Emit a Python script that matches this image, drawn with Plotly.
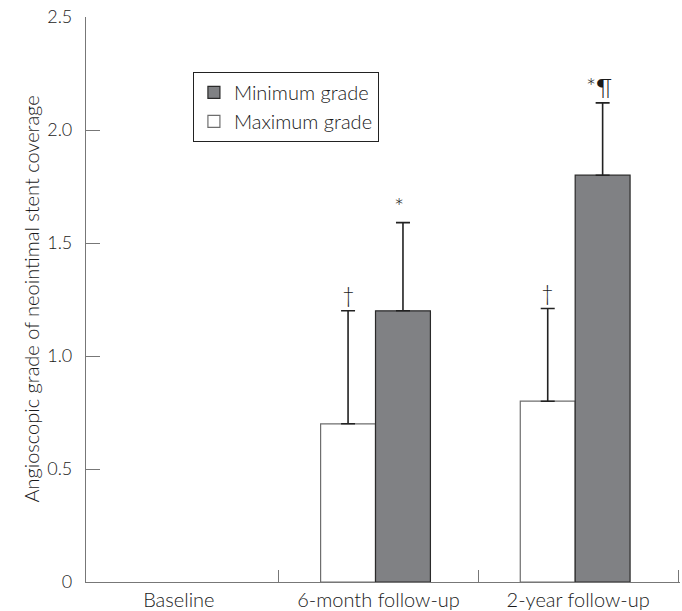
import plotly.graph_objects as go

categories = ["Baseline", "6-month follow-up", "2-year follow-up"]
max_grade = [None, 0.70, 0.80]
max_err = [None, 0.50, 0.41]
min_grade = [None, 1.20, 1.80]
min_err = [None, 0.39, 0.32]
max_marks = ["", "†", "†"]
min_marks = ["", "*", "*¶"]
y_ticks = [0, 0.5, 1.0, 1.5, 2.0, 2.5]
y_ticktext = ["0", "0.5", "1.0", "1.5", "2.0", "2.5"]
y_title = "Angioscopic grade of neointimal stent coverage"

FONT = "Lato, 'Open Sans', sans-serif"
TXT = "#1a1a1a"
BW = 0.275
MAX_OFF = -0.29
MIN_OFF = -0.015

fig = go.Figure()
fig.add_trace(go.Bar(
    name="Maximum grade", x=categories, y=max_grade,
    width=BW, offset=MAX_OFF,
    marker=dict(color="white", line=dict(color="#6e6e6e", width=1.2)),
    error_y=dict(type="data", array=max_err, symmetric=False,
                 arrayminus=[0, 0, 0], color="#222222", thickness=1.6, width=7),
))
fig.add_trace(go.Bar(
    name="Minimum grade", x=categories, y=min_grade,
    width=BW, offset=MIN_OFF,
    marker=dict(color="#808184", line=dict(color="#2a2a2a", width=1.2)),
    error_y=dict(type="data", array=min_err, symmetric=False,
                 arrayminus=[0, 0, 0], color="#222222", thickness=1.6, width=7),
))

PX_PER_CAT = 200
ann = []
for i, c in enumerate(categories):
    if max_marks[i]:
        ann.append(dict(x=c, y=max_grade[i] + max_err[i], text=max_marks[i],
                        xref="x", yref="y", showarrow=False, yanchor="bottom",
                        xshift=(MAX_OFF + BW / 2) * PX_PER_CAT, yshift=1,
                        font=dict(size=22, color=TXT, family=FONT)))
    if min_marks[i]:
        ann.append(dict(x=c, y=min_grade[i] + min_err[i], text=min_marks[i],
                        xref="x", yref="y", showarrow=False, yanchor="bottom",
                        xshift=(MIN_OFF + BW / 2) * PX_PER_CAT - 4, yshift=0,
                        font=dict(size=24, color=TXT, family=FONT)))
ann.append(dict(x=0, y=0.5, xref="paper", yref="paper", text=y_title,
                textangle=-90, showarrow=False, xanchor="center", yanchor="middle",
                xshift=-56, font=dict(size=20, color=TXT, family=FONT, weight=300)))

fig.update_layout(
    width=682, height=611,
    margin=dict(l=86, r=2, t=17, b=29),
    plot_bgcolor="white", paper_bgcolor="white",
    font=dict(family=FONT, size=20, color=TXT, weight=300),
    showlegend=True,
    legend=dict(x=0.18, y=0.903, xanchor="left", yanchor="top",
                traceorder="reversed", bordercolor="#222222", borderwidth=1,
                bgcolor="white", font=dict(size=20, color=TXT, weight=300),
                itemwidth=30),
    annotations=ann,
    xaxis=dict(type="category", range=[-0.465, 2.51], showline=True,
               linecolor="#777777", linewidth=1.2, ticks="inside",
               tickson="boundaries", ticklen=12, tickcolor="#777777",
               tickfont=dict(size=20, color=TXT, weight=300), showgrid=False,
               zeroline=False, automargin=False),
    yaxis=dict(range=[0, 2.5], tickvals=y_ticks, ticktext=y_ticktext,
               showline=True, linecolor="#777777", linewidth=1.2,
               ticks="inside", ticklen=14, tickcolor="#777777",
               ticklabelstandoff=9,
               tickfont=dict(size=18, color=TXT, weight=300), showgrid=False,
               zeroline=False, automargin=False),
)

fig.write_html("out.html", config={"displayModeBar": False},
               post_script="document.body.style.margin='0';")
